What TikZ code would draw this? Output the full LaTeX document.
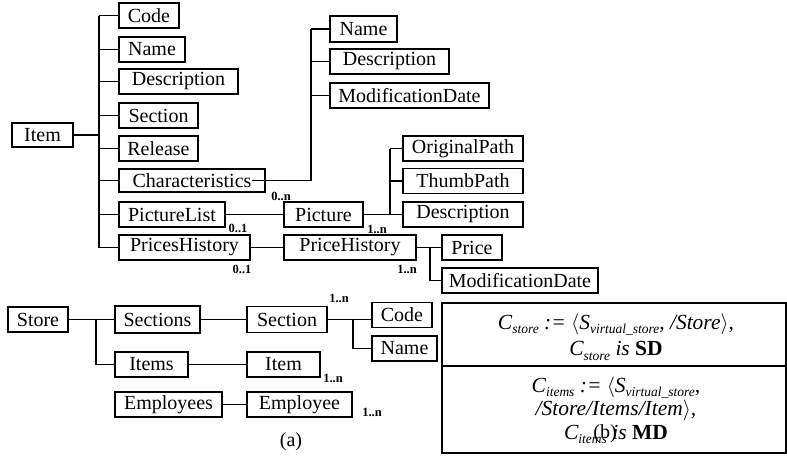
\documentclass[tikz,border=0pt]{standalone}
\usepackage{fontspec}
\setmainfont{Liberation Serif}
\newcommand{\csub}[1]{\raisebox{-0.45ex}{\fontsize{13.5}{13.5}\selectfont #1}}
\begin{document}
\begin{tikzpicture}[x=1pt, y=-1pt, line width=1.2pt,
  every node/.style={font=\fontsize{20}{22}\selectfont},
  ent/.style={draw, minimum height=25, inner sep=0pt},
  card/.style={font=\fontsize{12.5}{14}\selectfont\bfseries, inner sep=0pt}]
\useasboundingbox (0,0) rectangle (787,456);
% item tree
\node[ent, minimum width=61, minimum height=24] (item) at (42.5,135) {Item};
\node[ent, minimum width=60] (code) at (149,15.5) {Code};
\node[ent, minimum width=66] (name) at (152,49.5) {Name};
\node[ent, minimum width=119] (desc) at (178.5,81.5) {Description};
\node[ent, minimum width=79] (sect) at (158.5,115.5) {Section};
\node[ent, minimum width=79] (rel) at (158.5,148.5) {Release};
\node[ent, minimum width=146, minimum height=23] (charac) at (192,180.5) {Characteristics};
\node[ent, minimum width=106] (piclist) at (172,214.5) {PictureList};
\node[ent, minimum width=131] (prhist) at (184.5,247.5) {PricesHistory};
\coordinate (t1) at (99,0);
\draw (item.east) -- (item -| t1);
\draw (code -| t1) -- (prhist -| t1);
\foreach \n in {code,name,desc,sect,rel,charac,piclist,prhist}
  \draw (\n -| t1) -- (\n.west);
% characteristics
\node[ent, minimum width=67, minimum height=26] (cname) at (363.5,29) {Name};
\node[ent, minimum width=119] (cdesc) at (389.5,61.5) {Description};
\node[ent, minimum width=159] (cmod) at (409.5,95.5) {ModificationDate};
\coordinate (t2) at (311,0);
\draw ([xshift=-14pt]charac.east) -- (charac -| t2) -- (cname -| t2);
\foreach \n in {cname,cdesc,cmod}
  \draw (\n -| t2) -- (\n.west);
\node[card] at (281,196) {0..n};
% picture
\node[ent, minimum width=79] (pic) at (323.5,214.5) {Picture};
\node[ent, minimum width=120] (orig) at (463,148.5) {OriginalPath};
\node[ent, minimum width=120] (thumb) at (463,181) {ThumbPath};
\node[ent, minimum width=120] (pdesc) at (463,214.5) {Description};
\coordinate (t3) at (390,0);
\draw (piclist) -- (pic);
\draw (pic.east) -- (pdesc.west);
\draw (orig -| t3) -- (pdesc -| t3);
\foreach \n in {orig,thumb}
  \draw (\n -| t3) -- (\n.west);
\node[card] at (238,228) {0..1};
\node[card] at (377,229) {1..n};
% price history
\node[ent, minimum width=132] (phist) at (350,247.5) {PriceHistory};
\node[ent, minimum width=60] (price) at (472,247.5) {Price};
\node[ent, minimum width=156] (pmod) at (520,280.5) {ModificationDate};
\coordinate (t4) at (430,0);
\draw (prhist) -- (phist);
\draw (phist) -- (price);
\draw (price -| t4) |- (pmod.west);
\node[card] at (242,269) {0..1};
\node[card] at (407,269) {1..n};
% store tree
\node[ent, minimum width=60] (store) at (38,319.5) {Store};
\node[ent, minimum width=85, minimum height=27] (sects) at (157.5,319.5) {Sections};
\node[ent, minimum width=80, minimum height=26] (sectb) at (287,319.5) {Section};
\node[ent, minimum width=60] (codeb) at (402,315) {Code};
\node[ent, minimum width=65] (nameb) at (404.5,348.5) {Name};
\node[ent, minimum width=73] (items) at (151.5,364.5) {Items};
\node[ent, minimum width=73] (itemb) at (283.5,364.5) {Item};
\node[ent, minimum width=107] (emps) at (168.5,404.5) {Employees};
\node[ent, minimum width=105] (emp) at (299.5,404.5) {Employee};
\coordinate (t5) at (96,0);
\coordinate (t6) at (353,0);
\draw (store) -- (sects);
\draw (store -| t5) |- (items.west);
\draw (sects) -- (sectb);
\draw (items) -- (itemb);
\draw (emps) -- (emp);
\draw (sectb.east) -- (codeb.west |- sectb);
\draw (sectb -| t6) |- (nameb.west);
\node[card] at (339,298) {1..n};
\node[card] at (333,378) {1..n};
\node[card] at (372,412) {1..n};
\node (capa) at (291,442) {(a)};
% context box
\draw[line width=2.4pt] (442,303) rectangle (786,453);
\draw[line width=1.6pt] (442,366) -- (786,366);
\node[align=center, font=\fontsize{21.5}{27}\selectfont\itshape] (cstore) at (616,337)
  {C\csub{store} := $\langle$S\csub{virtual\_store}, /Store$\rangle$,\\
   C\csub{store} is {\upshape\bfseries SD}};
\node[align=center, font=\fontsize{21.5}{23.5}\selectfont\itshape] (citems) at (616,410)
  {C\csub{items} := $\langle$S\csub{virtual\_store},\\
   /Store/Items/Item$\rangle$,\\
   C\csub{items} is {\upshape\bfseries MD}};
\node (capb) at (605,434) {(b)};
\end{tikzpicture}
\end{document}
